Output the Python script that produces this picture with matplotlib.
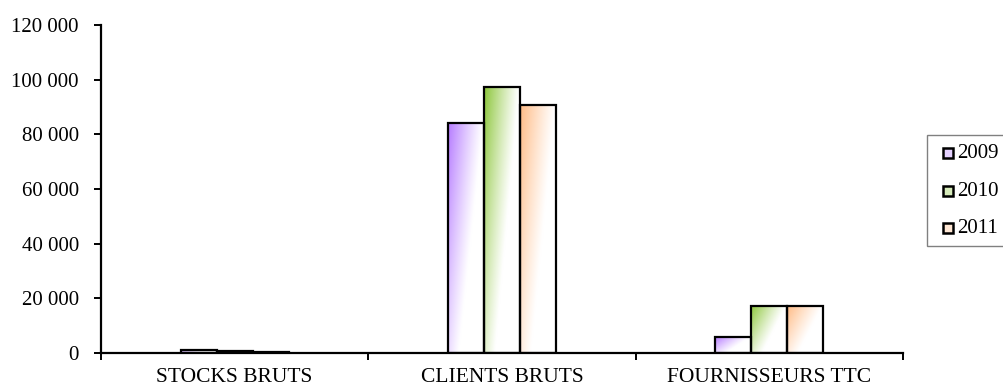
import numpy as np
import matplotlib
matplotlib.use("Agg")
import matplotlib.pyplot as plt
from matplotlib.patches import Rectangle
from matplotlib.colors import to_rgb
from matplotlib.ticker import FuncFormatter, FixedLocator

categories = ["STOCKS BRUTS", "CLIENTS BRUTS", "FOURNISSEURS TTC"]
years = ["2009", "2010", "2011"]
values_2009 = [1100, 84200, 5800]
values_2010 = [700, 97400, 17300]
values_2011 = [350, 90800, 17100]
series = [values_2009, values_2010, values_2011]
colors = ["#b67cff", "#8cc63a", "#ffbb85"]
y_ticks = [0, 20000, 40000, 60000, 80000, 100000, 120000]

plt.rcParams["font.family"] = ["Liberation Serif", "DejaVu Serif"]
plt.rcParams["font.size"] = 15

W, H = 1004, 387
fig = plt.figure(figsize=(W / 100, H / 100), dpi=100)
ax = fig.add_axes([101 / W, 34 / H, 802 / W, 328 / H])

bar_w = 0.135
x = np.arange(len(categories))

# Gradient weight: saturated at the top-left corner, fading to white
# towards the right and the bottom of each bar.
ny, nx = 160, 60
xx, yy = np.meshgrid(np.linspace(0, 1, nx), np.linspace(0, 1, ny))


def gradient_image(color):
    c = np.array(to_rgb(color))
    d = 1.5 * xx + 1.0 * yy
    w = np.clip(1.0 - d / 1.45, 0, 1) ** 1.1
    return np.ones((ny, nx, 3)) * (1 - w[..., None]) + c * w[..., None]


for i, (vals, col) in enumerate(zip(series, colors)):
    offs = (i - 1) * bar_w
    img = gradient_image(col)
    bars = ax.bar(x + offs, vals, width=bar_w, facecolor="none",
                  edgecolor="black", linewidth=1.6, zorder=3)
    for b in bars:
        x0, y0 = b.get_x(), b.get_y()
        w, h = b.get_width(), b.get_height()
        im = ax.imshow(img, extent=[x0, x0 + w, y0, y0 + h], origin="upper",
                       aspect="auto", zorder=2, interpolation="bilinear")
        im.set_clip_path(Rectangle((x0, y0), w, h, transform=ax.transData))

ax.set_xlim(-0.5, len(categories) - 0.5)
ax.set_ylim(0, 120000)
ax.set_yticks(y_ticks)
ax.yaxis.set_major_formatter(FuncFormatter(lambda v, p: f"{int(v):,}".replace(",", "\u00a0")))

ax.xaxis.set_major_locator(FixedLocator(np.arange(len(categories) + 1) - 0.5))
ax.xaxis.set_minor_locator(FixedLocator(x))
ax.set_xticklabels([], minor=False)
ax.set_xticklabels(categories, minor=True, fontsize=15.5)
ax.tick_params(axis="x", which="minor", length=0, pad=11)
ax.tick_params(axis="x", which="major", length=5, width=1.4, direction="out")
ax.tick_params(axis="y", length=5, width=1.4, direction="out", pad=11)

for s in ["top", "right"]:
    ax.spines[s].set_visible(False)
for s in ["left", "bottom"]:
    ax.spines[s].set_linewidth(1.6)


# Legend box drawn in figure pixels (origin top-left converted to bottom-left)
def fx(px):
    return px / W


def fy(py):
    return 1 - py / H


fig.patches.append(Rectangle((fx(927), fy(246)), fx(1010) - fx(927), fy(135) - fy(246),
                             transform=fig.transFigure, facecolor="white",
                             edgecolor="#808080", linewidth=1.0))
for yr, col, yc in zip(years, colors, [153, 191, 228]):
    fig.patches.append(Rectangle((fx(943), fy(yc + 5)), fx(953) - fx(943), fy(yc - 5) - fy(yc + 5),
                                 transform=fig.transFigure,
                                 facecolor=to_rgb(col) + (0.35,), edgecolor="black",
                                 linewidth=1.8))
    fig.text(fx(957), fy(yc), yr, ha="left", va="center", fontsize=15)

fig.savefig("out.png", dpi=100)
